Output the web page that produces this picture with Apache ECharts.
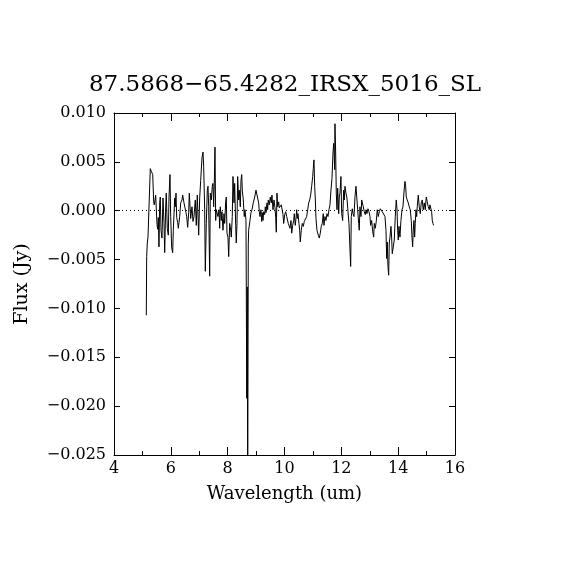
<!DOCTYPE html>
<html>
<head>
<meta charset="utf-8">
<script src="https://cdn.jsdelivr.net/npm/echarts@6/dist/echarts.min.js"></script>
<style>html,body{margin:0;padding:0;background:#fff}#c{width:570px;height:570px}</style>
</head>
<body>
<div id="c"></div>
<script>
const titleText = "87.5868\u221265.4282_IRSX_5016_SL";
const xTitle = "Wavelength (um)";
const yTitle = "Flux (Jy)";
const xTicks = [4, 6, 8, 10, 12, 14, 16];
const yTicks = [-0.025, -0.020, -0.015, -0.010, -0.005, 0.000, 0.005, 0.010];

const wavelength = [
5.136,5.150,5.172,5.196,5.277,5.318,5.362,5.397,5.418,5.443,5.467,5.513,5.538,5.559,5.583,5.608,5.629,5.654,5.689,5.724,
5.759,5.784,5.819,5.840,5.875,5.911,5.935,5.970,5.995,6.030,6.065,6.087,6.136,6.157,6.182,6.206,6.241,6.263,6.287,6.312,
6.347,6.368,6.393,6.417,6.438,6.463,6.498,6.533,6.558,6.593,6.628,6.650,6.699,6.745,6.780,6.815,6.861,6.896,6.931,6.980,
7.015,7.051,7.096,7.132,7.156,7.191,7.213,7.248,7.283,7.308,7.332,7.367,7.389,7.424,7.459,7.483,7.508,7.529,7.554,7.578,
7.600,7.635,7.659,7.695,7.719,7.740,7.776,7.800,7.835,7.871,7.895,7.930,7.951,7.976,8.011,8.036,8.071,8.106,8.127,8.162,
8.187,8.222,8.247,8.282,8.303,8.328,8.352,8.387,8.409,8.444,8.469,8.494,8.515,8.550,8.585,8.609,8.645,8.672,8.690,8.705,
8.725,8.739,8.785,8.820,8.856,8.901,8.951,8.996,9.032,9.056,9.091,9.113,9.137,9.172,9.197,9.218,9.243,9.267,9.303,9.324,
9.348,9.384,9.408,9.429,9.464,9.500,9.535,9.559,9.595,9.630,9.665,9.690,9.711,9.735,9.760,9.795,9.816,9.852,9.887,9.922,
9.947,9.971,10.006,10.042,10.077,10.133,10.193,10.228,10.253,10.288,10.323,10.344,10.379,10.404,10.429,10.450,10.474,10.509,10.534,10.555,
10.590,10.626,10.661,10.696,10.745,10.780,10.816,10.851,10.886,10.921,10.956,10.992,11.013,11.037,11.062,11.083,11.108,11.143,11.189,11.224,
11.259,11.294,11.329,11.364,11.389,11.424,11.459,11.495,11.530,11.565,11.600,11.635,11.671,11.706,11.731,11.741,11.766,11.776,11.801,11.822,
11.847,11.871,11.907,11.928,11.952,11.987,12.012,12.047,12.082,12.103,12.128,12.163,12.198,12.234,12.269,12.304,12.329,12.350,12.385,12.410,
12.445,12.480,12.515,12.550,12.575,12.610,12.631,12.656,12.691,12.716,12.737,12.772,12.807,12.842,12.867,12.902,12.937,12.973,13.008,13.032,
13.067,13.103,13.138,13.159,13.194,13.229,13.265,13.300,13.335,13.370,13.405,13.441,13.476,13.511,13.536,13.571,13.595,13.616,13.641,13.666,
13.687,13.711,13.747,13.771,13.792,13.828,13.863,13.898,13.933,13.958,13.982,14.004,14.028,14.063,14.098,14.134,14.169,14.204,14.239,14.264,
14.285,14.320,14.355,14.390,14.426,14.461,14.486,14.510,14.531,14.556,14.580,14.601,14.626,14.651,14.672,14.707,14.742,14.778,14.813,14.848,
14.883,14.918,14.954,14.989,15.024,15.059,15.094,15.119,15.154,15.178,15.200,15.224,15.249
];
const flux = [
-0.0107,-0.0047,-0.0033,-0.0027,0.0043,0.0040,0.0037,0.0009,0.0006,0.0011,0.0016,-0.0014,-0.0019,-0.0007,-0.0037,0.0008,0.0014,-0.0020,-0.0028,0.0013,
-0.0012,-0.0043,0.0004,0.0018,-0.0018,-0.0025,0.0013,0.0037,-0.0006,-0.0038,-0.0043,-0.0020,0.0013,0.0004,0.0018,-0.0007,-0.0012,-0.0018,-0.0012,-0.0006,
0.0008,0.0009,0.0011,0.0016,0.0018,0.0008,0.0003,-0.0002,-0.0006,-0.0017,-0.0002,0.0018,-0.0008,0.0004,-0.0011,-0.0006,0.0011,-0.0015,0.0016,-0.0025,
0.0013,0.0031,0.0054,0.0060,0.0045,0.0001,-0.0062,-0.0013,0.0021,0.0025,0.0004,-0.0067,0.0018,0.0011,0.0025,0.0028,0.0004,0.0028,0.0065,-0.0010,
0.0001,-0.0001,-0.0006,0.0001,-0.0018,0.0004,-0.0010,-0.0001,-0.0020,-0.0003,-0.0013,0.0009,0.0014,-0.0023,-0.0027,-0.0047,-0.0013,-0.0020,-0.0027,-0.0006,
0.0035,0.0008,0.0028,-0.0015,-0.0033,-0.0013,0.0035,0.0011,0.0021,0.0004,0.0031,0.0037,0.0021,0.0011,-0.0006,0.0001,-0.0010,-0.0192,-0.0078,-0.0300,
-0.0035,-0.0020,-0.0010,-0.0002,0.0001,0.0008,0.0014,0.0021,0.0023,0.0019,0.0008,-0.0001,-0.0006,0.0001,-0.0011,-0.0002,-0.0010,-0.0001,-0.0004,0.0004,
-0.0002,0.0008,0.0001,0.0011,0.0006,0.0014,0.0008,0.0016,0.0001,0.0011,0.0003,-0.0007,-0.0022,0.0018,0.0004,0.0009,0.0003,0.0001,0.0006,0.0004,
-0.0004,-0.0013,-0.0004,-0.0001,-0.0006,-0.0013,-0.0018,-0.0010,-0.0023,-0.0015,-0.0010,-0.0003,-0.0015,-0.0008,0.0001,-0.0008,-0.0003,-0.0013,-0.0020,-0.0032,
-0.0020,-0.0013,-0.0016,-0.0011,-0.0010,-0.0006,0.0001,0.0008,0.0011,0.0016,0.0025,0.0035,0.0043,0.0052,0.0025,0.0013,-0.0008,-0.0020,-0.0025,-0.0028,
-0.0023,-0.0016,-0.0013,-0.0003,-0.0015,-0.0006,-0.0010,-0.0003,-0.0006,0.0001,0.0006,0.0021,0.0033,0.0059,0.0069,0.0062,0.0042,0.0089,0.0059,0.0018,
0.0001,0.0023,-0.0003,0.0014,0.0018,0.0035,-0.0003,-0.0010,0.0021,0.0011,0.0025,0.0018,0.0013,-0.0001,-0.0013,-0.0040,-0.0057,-0.0006,0.0002,-0.0003,
-0.0006,0.0014,0.0025,0.0023,0.0001,-0.0013,-0.0020,0.0004,-0.0006,0.0011,0.0013,0.0004,-0.0001,-0.0004,0.0001,-0.0003,0.0002,-0.0001,-0.0006,-0.0015,
-0.0010,-0.0021,-0.0027,-0.0013,-0.0018,-0.0011,0.0001,-0.0006,-0.0001,0.0002,0.0001,-0.0001,0.0001,0.0001,-0.0006,-0.0020,-0.0049,-0.0032,-0.0057,-0.0066,
-0.0033,-0.0027,-0.0016,-0.0028,-0.0044,-0.0037,-0.0030,-0.0006,0.0011,0.0002,-0.0020,-0.0030,-0.0016,-0.0027,-0.0010,0.0001,0.0004,0.0019,0.0030,0.0025,
0.0014,0.0011,0.0008,0.0004,0.0001,-0.0010,-0.0027,-0.0037,-0.0020,-0.0010,-0.0027,-0.0013,0.0001,-0.0006,0.0004,0.0016,0.0004,-0.0003,0.0008,0.0011,
0.0001,0.0008,0.0001,0.0014,0.0009,0.0004,0.0001,0.0006,0.0008,-0.0001,-0.0010,-0.0013,-0.0015
];

const FONT = "DejaVu Serif";
const points = wavelength.map((w, i) => [w, flux[i]]);
const yFmt = v => v.toFixed(3).replace('-', '\u2212');

const chart = echarts.init(document.getElementById('c'), null, {renderer: 'canvas'});
const baseX = {
  type: 'value', min: xTicks[0], max: xTicks[xTicks.length - 1], interval: 2,
  axisLine: {show: true, onZero: false, lineStyle: {color: '#000', width: 1}},
  axisTick: {show: true, inside: true, length: 8, lineStyle: {color: '#000'}},
  minorTick: {show: true, splitNumber: 2, length: 4, lineStyle: {color: '#000'}},
  splitLine: {show: false}, minorSplitLine: {show: false}
};
const baseY = {
  type: 'value', min: yTicks[0], max: yTicks[yTicks.length - 1], interval: 0.005,
  axisLine: {show: true, onZero: false, lineStyle: {color: '#000', width: 1}},
  axisTick: {show: true, inside: true, length: 6, lineStyle: {color: '#000'}},
  splitLine: {show: false}
};
chart.setOption({
  animation: false,
  backgroundColor: '#fff',
  title: {
    text: titleText, left: 'center', top: 69,
    textStyle: {fontFamily: FONT, fontSize: 23, fontWeight: 'normal', color: '#000'}
  },
  grid: {left: 114, right: 115, top: 113, bottom: 115, containLabel: false},
  xAxis: [
    Object.assign({}, baseX, {
      position: 'bottom', name: xTitle, nameLocation: 'middle', nameGap: 30,
      nameTextStyle: {fontFamily: FONT, fontSize: 18, color: '#000'},
      axisLabel: {show: true, fontFamily: FONT, fontSize: 16, color: '#000', margin: 6}
    }),
    Object.assign({}, baseX, {position: 'top', axisLabel: {show: false}})
  ],
  yAxis: [
    Object.assign({}, baseY, {
      position: 'left', name: yTitle, nameLocation: 'middle', nameGap: 82, nameRotate: 90,
      nameTextStyle: {fontFamily: FONT, fontSize: 19, color: '#000'},
      axisLabel: {show: true, fontFamily: FONT, fontSize: 16, color: '#000', margin: 8, formatter: yFmt}
    }),
    Object.assign({}, baseY, {position: 'right', axisLabel: {show: false}})
  ],
  series: [{
    type: 'line', data: points, xAxisIndex: 0, yAxisIndex: 0,
    showSymbol: false, symbol: 'none', clip: true,
    lineStyle: {color: '#000', width: 1},
    markLine: {
      silent: true, symbol: 'none', label: {show: false},
      lineStyle: {color: '#000', type: [1, 3], width: 1},
      data: [{yAxis: 0}]
    }
  }]
});
</script>
</body>
</html>
